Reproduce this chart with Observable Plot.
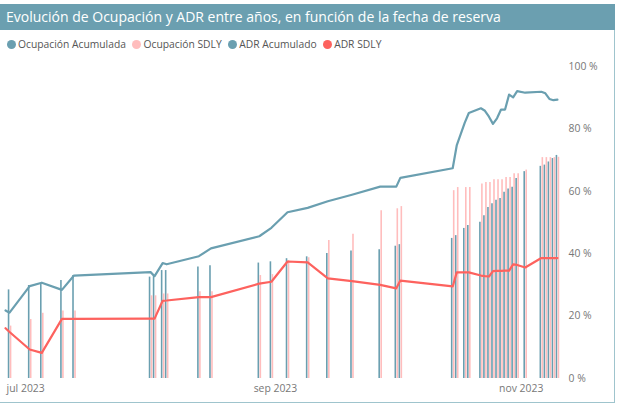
<!DOCTYPE html>
<html>
<head>
<meta charset="utf-8">
<script src="https://cdn.jsdelivr.net/npm/d3@7"></script>
<script src="https://cdn.jsdelivr.net/npm/@observablehq/plot@0.6"></script>
<style>
  html, body { margin: 0; padding: 0; background: #fff; }
  #wrap { position: relative; width: 618px; height: 409px; overflow: hidden; font-family: "Segoe UI", "Open Sans", sans-serif; }
  #title { position: absolute; left: 0; top: 4px; width: 615px; height: 26px; background: #6b9fb0; color: #fff;
           font-size: 14px; line-height: 26px; padding-left: 6px; box-sizing: border-box; white-space: nowrap; }
  #frame { position: absolute; left: 0; top: 30px; width: 615px; height: 373px; box-sizing: border-box;
           border-right: 1px solid #9fc4cd; border-bottom: 1px solid #9fc4cd; }
  #legend { position: absolute; left: 6.5px; top: 37px; height: 14px; display: flex; align-items: center;
            font-size: 10.3px; color: #555; white-space: nowrap; }
  #legend .item { display: flex; align-items: center; margin-right: 6px; }
  #legend .dot { width: 9px; height: 9px; border-radius: 50%; margin-right: 2.5px; }
  #chart { position: absolute; left: 0; top: 56px; }
</style>
</head>
<body>
<div id="wrap">
  <div id="title"></div>
  <div id="frame"></div>
  <div id="legend"></div>
  <div id="chart"></div>
</div>
<script>
const titleText = "Evolución de Ocupación y ADR entre años, en función de la fecha de reserva";
const seriesNames = ["Ocupación Acumulada", "Ocupación SDLY", "ADR Acumulado", "ADR SDLY"];
const seriesColors = ["#6a9fb0", "#ffbdbd", "#6a9fb0", "#fd625e"];

const dates = [
  "2023-06-26","2023-06-27","2023-07-02","2023-07-05","2023-07-10","2023-07-13",
  "2023-08-01","2023-08-02","2023-08-04","2023-08-05","2023-08-13","2023-08-16",
  "2023-08-28","2023-08-31","2023-09-04","2023-09-09","2023-09-14","2023-09-20",
  "2023-09-27","2023-10-01","2023-10-02","2023-10-15","2023-10-16","2023-10-18",
  "2023-10-19","2023-10-22","2023-10-23","2023-10-24","2023-10-25","2023-10-26",
  "2023-10-27","2023-10-28","2023-10-29","2023-10-30","2023-10-31","2023-11-02",
  "2023-11-06","2023-11-07","2023-11-08","2023-11-09","2023-11-10"
];
// Occupancy, %
const ocupAcumulada = [
  null, 28.4, 29.8, 30.5, 31.4, 33.0,
  32.5, 33.2, 34.6, 34.6, 35.7, 36.1,
  37.0, 37.4, 38.4, 39.0, 40.1, 40.9,
  41.3, 42.4, 42.9, 44.9, 45.8, 48.1,
  49.0, 50.1, 52.2, 54.8, 56.0, 57.1,
  57.7, 59.7, 60.7, 61.3, 64.1, 66.3,
  68.0, 68.4, 69.4, 70.5, 71.5
];
const ocupSDLY = [
  null, 16.8, 18.9, 20.9, 21.6, 21.6,
  26.5, 26.5, 27.1, 27.1, 27.8, 27.8,
  33.0, 33.3, 37.8, 38.7, 44.2, 46.2,
  53.8, 54.4, 55.1, 60.2, 61.2, 61.2,
  61.2, 62.3, 62.8, 62.8, 63.7, 63.7,
  63.7, 64.4, 64.4, 65.6, 65.6, 66.8,
  70.8, 70.8, 70.8, 70.8, 70.9
];
// ADR, € (hidden secondary axis 0 – 200 €)
const adrAxisMax = 200;
const adrAcumulado = [
  43.6, 42.2, 59.2, 61.4, 56.8, 66.0,
  68.2, 65.6, 74.0, 73.2, 78.4, 83.4,
  91.2, 96.6, 106.6, 109.4, 113.6, 117.8,
  123.0, 123.0, 128.6, 134.8, 149.4, 164.0,
  170.2, 173.2, 171.6, 167.8, 163.2, 166.8,
  172.4, 172.4, 182.0, 180.2, 184.2, 183.2,
  183.8, 182.8, 179.2, 178.4, 178.8
];
const adrSDLY = [
  32.2, 29.8, 18.6, 16.4, 38.2, 38.2,
  38.4, 38.4, 49.8, 50.0, 52.2, 52.2,
  60.8, 62.0, 75.0, 74.4, 64.2, 62.4,
  60.0, 57.8, 62.8, 59.0, 68.0, 68.0,
  68.0, 66.0, 65.6, 65.4, 68.8, 69.0,
  69.0, 69.2, 69.2, 73.2, 72.8, 71.2,
  77.2, 77.2, 77.2, 77.2, 77.2
];
const xDomain = ["2023-06-25", "2023-11-12"];
const xTicks = ["2023-07-01", "2023-09-01", "2023-11-01"];
const xTickLabels = ["jul 2023", "sep 2023", "nov 2023"];
const yTicks = [0, 20, 40, 60, 80, 100];

document.getElementById("title").textContent = titleText;
const legend = document.getElementById("legend");
seriesNames.forEach((n, i) => {
  const it = document.createElement("div"); it.className = "item";
  const dot = document.createElement("div"); dot.className = "dot"; dot.style.background = seriesColors[i];
  const t = document.createElement("span"); t.textContent = n;
  it.appendChild(dot); it.appendChild(t); legend.appendChild(it);
});

const rows = dates.map((d, i) => ({
  date: new Date(d),
  oa: ocupAcumulada[i], os: ocupSDLY[i], aa: adrAcumulado[i], as: adrSDLY[i]
}));
const barRows = rows.filter(r => r.oa != null);
const toAxis = v => v / adrAxisMax * 100;

const chart = Plot.plot({
  width: 618,
  height: 345,
  marginTop: 10,
  marginBottom: 23,
  marginLeft: 1,
  marginRight: 53,
  style: { fontFamily: "'Segoe UI', 'Open Sans', sans-serif", fontSize: "10.4px", color: "#777", background: "transparent" },
  x: { type: "utc", domain: xDomain.map(d => new Date(d)) },
  y: { domain: [0, 100] },
  marks: [
    Plot.ruleX(barRows, { x: "date", y1: 0, y2: "oa", stroke: seriesColors[0], strokeWidth: 1.6, dx: -1 }),
    Plot.ruleX(barRows, { x: "date", y1: 0, y2: "os", stroke: seriesColors[1], strokeWidth: 1.6, dx: 1 }),
    Plot.lineY(rows, { x: "date", y: d => toAxis(d.aa), stroke: seriesColors[2], strokeWidth: 2.2 }),
    Plot.lineY(rows, { x: "date", y: d => toAxis(d.as), stroke: seriesColors[3], strokeWidth: 2.2 }),
    Plot.axisX({ ticks: xTicks.map(d => new Date(d)), tickFormat: (d, i) => xTickLabels[i], tickSize: 0, tickPadding: 6, fill: "#777" }),
    Plot.axisY({ anchor: "right", ticks: yTicks, tickFormat: d => d + " %", tickSize: 0, tickPadding: 3, textAnchor: "start", fill: "#777" })
  ]
});
document.getElementById("chart").appendChild(chart);
</script>
</body>
</html>
